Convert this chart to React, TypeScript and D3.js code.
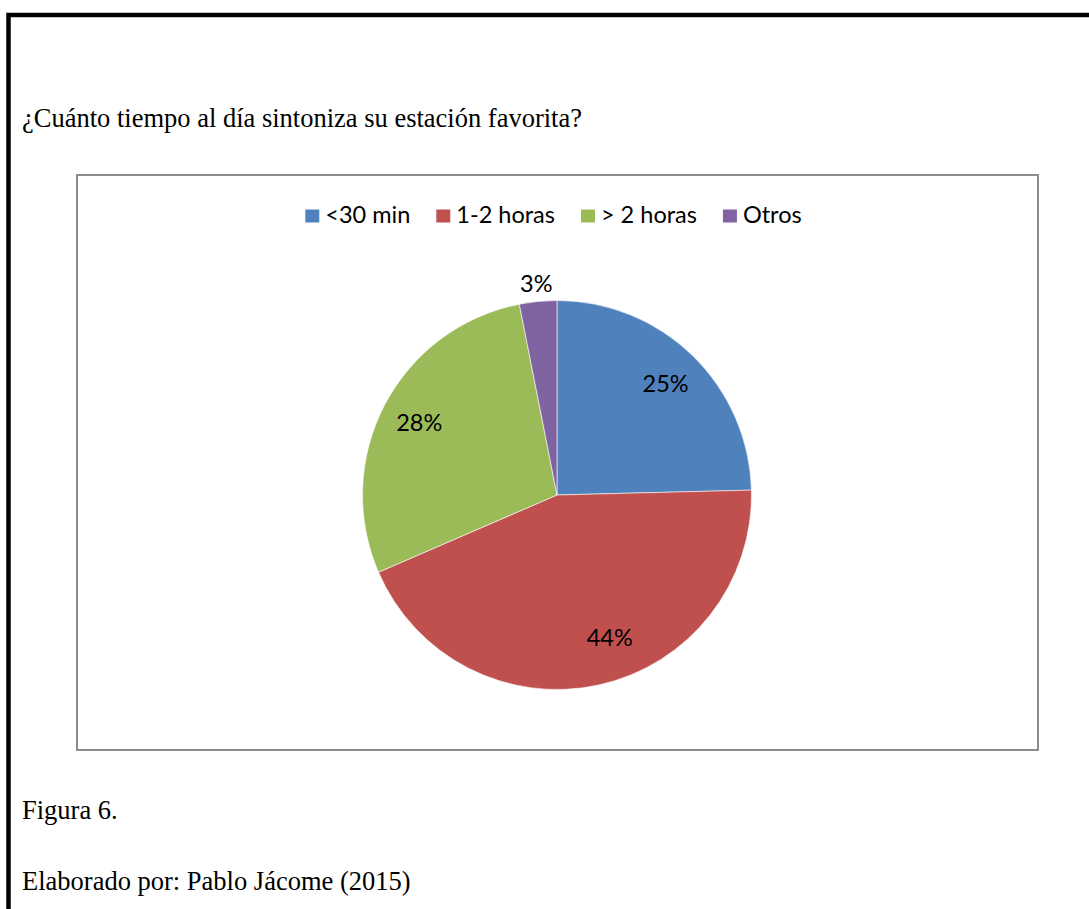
import React, { useEffect, useRef } from "react";
import * as d3 from "d3";

const categories = ["<30 min", "1-2 horas", "> 2 horas", "Otros"];
const values = [24.6, 43.9, 28.4, 3.1];
const colors = ["#4F81BD", "#C0504D", "#9BBB59", "#8064A2"];
const title = "¿Cuánto tiempo al día sintoniza su estación favorita?";
const caption1 = "Figura 6.";
const caption2 = "Elaborado por: Pablo Jácome (2015)";

const W = 1089;
const H = 909;

export default function App() {
  const ref = useRef<SVGSVGElement | null>(null);

  useEffect(() => {
    document.body.style.margin = "0";
    const svg = d3.select(ref.current);
    svg.selectAll("*").remove();

    // outer frame
    svg.append("rect")
      .attr("x", 8.5).attr("y", 15)
      .attr("width", W + 20).attr("height", H + 20)
      .attr("fill", "none").attr("stroke", "#000").attr("stroke-width", 4.5);

    const serif = "'Liberation Serif', 'Times New Roman', serif";
    svg.append("text").attr("x", 22).attr("y", 127)
      .attr("font-family", serif).attr("font-size", 26.5).attr("fill", "#000")
      .text(title);
    svg.append("text").attr("x", 22).attr("y", 819)
      .attr("font-family", serif).attr("font-size", 26.5).attr("fill", "#000")
      .text(caption1);
    svg.append("text").attr("x", 22).attr("y", 890)
      .attr("font-family", serif).attr("font-size", 26.5).attr("fill", "#000")
      .text(caption2);

    // chart box
    const box = { x: 77, y: 175, w: 961, h: 575 };
    svg.append("rect")
      .attr("x", box.x).attr("y", box.y).attr("width", box.w).attr("height", box.h)
      .attr("fill", "#fff").attr("stroke", "#8c8c8c").attr("stroke-width", 2);

    const sans = "Lato, 'Open Sans', sans-serif";
    const fs = 23.5;

    // legend
    const legend = svg.append("g");
    const items = legend.selectAll("g").data(categories).enter().append("g");
    items.append("rect")
      .attr("width", 14).attr("height", 13).attr("y", -13.5)
      .attr("fill", (_d, i) => colors[i]);
    const texts = items.append("text")
      .attr("x", 20).attr("y", 0)
      .attr("font-family", sans).attr("font-size", fs).attr("fill", "#000")
      .text((d) => d);
    const widths: number[] = [];
    texts.each(function () {
      widths.push((this as SVGTextElement).getComputedTextLength());
    });
    const gap = 26;
    const itemW = widths.map((w) => 20 + w);
    const total = d3.sum(itemW) + gap * (categories.length - 1);
    let cx = box.x + box.w / 2 - 4 - total / 2;
    const offsets: number[] = [];
    itemW.forEach((w) => { offsets.push(cx); cx += w + gap; });
    items.attr("transform", (_d, i) => `translate(${offsets[i]},223)`);

    // pie
    const center = { x: 557, y: 495 };
    const r = 194.5;
    const pie = d3.pie<number>().sort(null).value((d) => d);
    const arcs = pie(values);
    const arc = d3.arc<d3.PieArcDatum<number>>().innerRadius(0).outerRadius(r);
    const labelArc = d3.arc<d3.PieArcDatum<number>>().innerRadius(r * 0.8).outerRadius(r * 0.8);
    const outerArc = d3.arc<d3.PieArcDatum<number>>().innerRadius(r + 18).outerRadius(r + 18);
    const g = svg.append("g").attr("transform", `translate(${center.x},${center.y})`);
    g.selectAll("path").data(arcs).enter().append("path")
      .attr("d", arc)
      .attr("fill", (_d, i) => colors[i])
      .attr("stroke", "#fff").attr("stroke-width", 0.6);

    const total2 = d3.sum(values);
    g.selectAll("text").data(arcs).enter().append("text")
      .attr("transform", (d) => {
        const pct = d.value / total2;
        let c: [number, number];
        if (pct < 0.05) c = outerArc.centroid(d);
        else if (pct > 0.4) {
          // large slice: label pulled slightly toward the slice's start, as in the original
          const mid = d.startAngle + (d.endAngle - d.startAngle) * 0.45;
          c = [Math.sin(mid) * r * 0.78, -Math.cos(mid) * r * 0.78];
        } else c = labelArc.centroid(d);
        return `translate(${c[0]},${c[1]})`;
      })
      .attr("text-anchor", "middle")
      .attr("dy", "0.36em")
      .attr("font-family", sans).attr("font-size", fs).attr("fill", "#000")
      .text((d) => `${Math.round((d.value / total2) * 100)}%`);
  }, []);

  return <svg ref={ref} width={W} height={H} style={{ display: "block", background: "#fff" }} />;
}
